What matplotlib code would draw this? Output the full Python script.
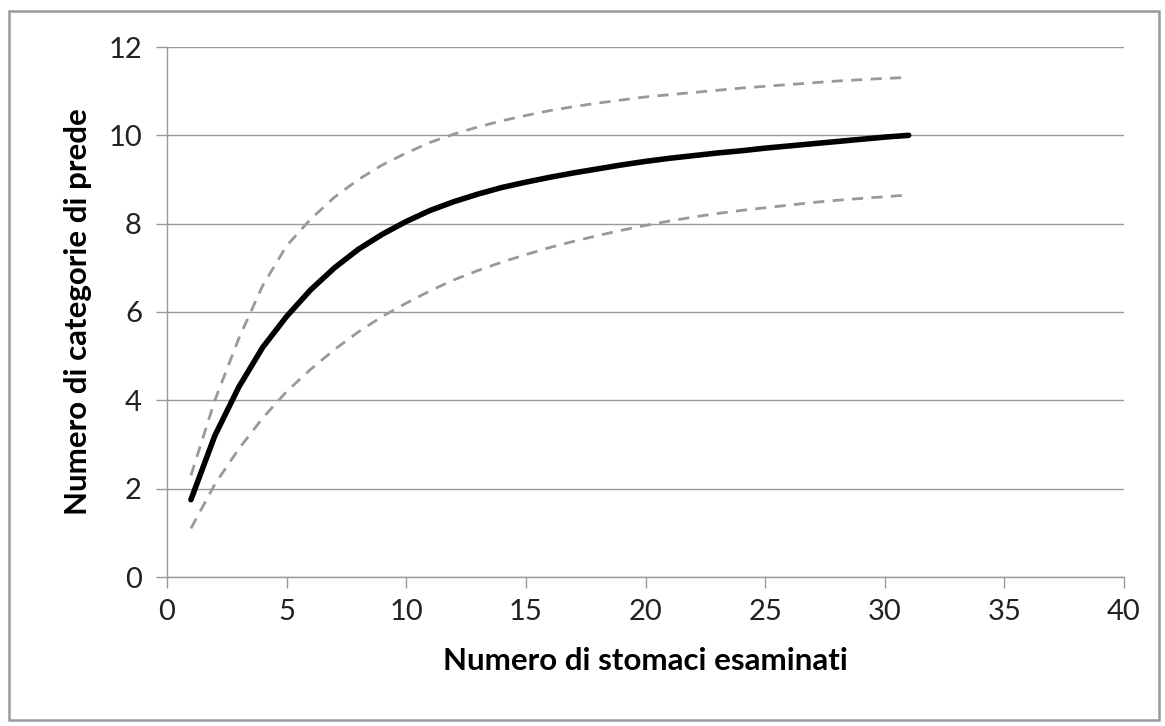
import matplotlib
matplotlib.use("Agg")
import matplotlib.pyplot as plt
from matplotlib.patches import Rectangle

x_vals = list(range(1, 32))
media = [1.75, 3.2, 4.3, 5.2, 5.9, 6.5, 7.0, 7.42, 7.76, 8.05, 8.3, 8.5, 8.67, 8.82,
         8.94, 9.05, 9.15, 9.24, 9.33, 9.41, 9.48, 9.54, 9.6, 9.65, 9.71, 9.76, 9.81,
         9.86, 9.91, 9.96, 10.0]
superiore = [2.3, 4.0, 5.4, 6.6, 7.5, 8.1, 8.6, 9.0, 9.33, 9.6, 9.84, 10.03, 10.19,
             10.33, 10.45, 10.56, 10.65, 10.73, 10.8, 10.87, 10.92, 10.97, 11.02,
             11.07, 11.11, 11.15, 11.19, 11.23, 11.26, 11.29, 11.31]
inferiore = [1.1, 2.1, 2.9, 3.6, 4.2, 4.7, 5.15, 5.55, 5.9, 6.2, 6.48, 6.73, 6.94,
             7.13, 7.3, 7.46, 7.6, 7.73, 7.85, 7.96, 8.06, 8.15, 8.23, 8.3, 8.36,
             8.42, 8.48, 8.53, 8.57, 8.61, 8.65]
x_ticks = [0, 5, 10, 15, 20, 25, 30, 35, 40]
y_ticks = [0, 2, 4, 6, 8, 10, 12]

plt.rcParams['font.family'] = ['Lato', 'DejaVu Sans']
fig = plt.figure(figsize=(11.65, 7.26), dpi=100)
fig.patches.append(Rectangle((9/1165, 6/726), 1150/1165, 709/726, transform=fig.transFigure,
                             fill=False, edgecolor='#9a9a9a', linewidth=1.8))
ax = fig.add_axes([167/1165, 149/726, 957/1165, 530/726])

ax.plot(x_vals, superiore, color='#999999', lw=2, ls=(0, (4, 3)))
ax.plot(x_vals, inferiore, color='#999999', lw=2, ls=(0, (4, 3)))
ax.plot(x_vals, media, color='black', lw=4, solid_capstyle='round', solid_joinstyle='round')

ax.set_xlim(0, 40)
ax.set_ylim(0, 12)
ax.set_xticks(x_ticks)
ax.set_yticks(y_ticks)
ax.yaxis.grid(True, color='#999999', lw=1)
ax.set_axisbelow(True)
for s in ['top', 'right']:
    ax.spines[s].set_visible(False)
for s in ['left', 'bottom']:
    ax.spines[s].set_color('#999999')
    ax.spines[s].set_linewidth(1)
ax.tick_params(axis='both', colors='#999999', labelcolor='#222222', labelsize=21, length=8, width=1)
ax.tick_params(axis='y', pad=10)
ax.tick_params(axis='x', pad=8)
ax.set_xlabel('Numero di stomaci esaminati', fontsize=22.5, fontweight='bold', labelpad=16)
ax.set_ylabel('Numero di categorie di prede', fontsize=22.5, fontweight='bold', labelpad=12)

fig.savefig('out.png', dpi=100)
